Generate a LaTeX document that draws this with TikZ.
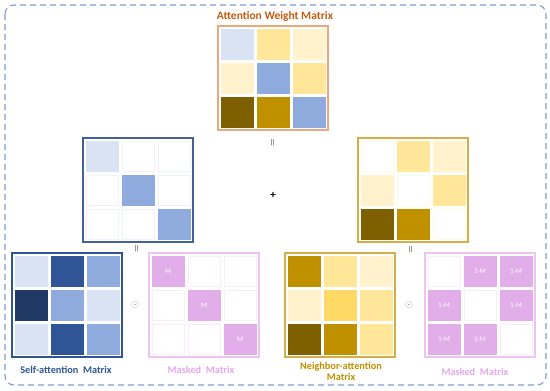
\documentclass[tikz,border=0pt]{standalone}
\usepackage{fontspec}
\setmainfont{Carlito}
\usepackage{amsmath}
\usetikzlibrary{positioning}
\definecolor{blA}{HTML}{DAE3F3}
\definecolor{blB}{HTML}{8FAADC}
\definecolor{blC}{HTML}{2F5597}
\definecolor{blD}{HTML}{1F3864}
\definecolor{blE}{HTML}{EEF2FA}
\definecolor{blFrame}{HTML}{44619E}
\definecolor{ylA}{HTML}{FFF2CC}
\definecolor{ylB}{HTML}{FFE699}
\definecolor{ylC}{HTML}{FFD966}
\definecolor{ylD}{HTML}{BF9000}
\definecolor{ylE}{HTML}{7F6000}
\definecolor{ylF}{HTML}{FFF9E8}
\definecolor{ylFrame}{HTML}{D5AE4A}
\definecolor{pkA}{HTML}{E2AEE9}
\definecolor{pkE}{HTML}{F8EEF9}
\definecolor{pkFrame}{HTML}{EEC2F2}
\definecolor{pkText}{HTML}{E6A6EE}
\definecolor{awFrame}{HTML}{EDA77C}
\definecolor{awText}{HTML}{C55A11}
\definecolor{outerLine}{HTML}{7E9BD3}

\tikzset{
  matframe/.style={draw, line width=1.4pt, minimum width=110pt, minimum height=104pt, inner sep=0pt},
  cellbox/.style={line width=0.6pt, minimum width=32pt, minimum height=30pt, inner sep=0pt,
    font=\fontsize{7}{8}\selectfont, text=white},
  lbl/.style={font=\fontsize{10.3}{11}\selectfont\bfseries, align=center},
  eqsign/.style={font=\fontsize{10}{10}\selectfont, rotate=90, inner sep=0pt},
  opsign/.style={font=\fontsize{10}{10}\selectfont, text=black!50, inner sep=0pt}
}

% one 3x3 matrix: name, left, top, frame colour, cells (fill/edge/text)
\newcommand{\drawmat}[5]{%
  \node[matframe, draw=#4] (#1) at (#2+55,#3+52) {};
  \foreach \fc/\dc/\txt [count=\i from 0] in {#5}{
    \pgfmathtruncatemacro{\r}{div(\i,3)}
    \pgfmathtruncatemacro{\c}{mod(\i,3)}
    \node[cellbox, fill=\fc, draw=\dc] (#1-\r-\c) at (#2+19+36*\c,#3+18+34*\r) {\txt};
  }
}

\begin{document}
\begin{tikzpicture}[x=1pt, y=-1pt]
  \useasboundingbox (0,0) rectangle (550,391);
  \draw[outerLine, line width=1.1pt, dash pattern=on 6pt off 4pt, rounded corners=9pt]
    (5,5) rectangle (546,385);

  % attention weight matrix
  \node[lbl, text=awText, font=\fontsize{11.5}{12}\selectfont\bfseries] (awTitle) at (275,16) {Attention Weight Matrix};
  \drawmat{aw}{218}{26}{awFrame}{
    blA/blA/{}, ylB/ylB/{}, ylA/ylA/{},
    ylA/ylA/{}, blB/blB/{}, ylB/ylB/{},
    ylE/ylE/{}, ylD/ylD/{}, blB/blB/{}}
  \node[eqsign] (eqTop) at (273,143) {$=$};

  % middle row
  \drawmat{saw}{83}{138}{blFrame}{
    blA/blA/{}, white/blE/{}, white/blE/{},
    white/blE/{}, blB/blB/{}, white/blE/{},
    white/blE/{}, white/blE/{}, blB/blB/{}}
  \node[font=\fontsize{11}{11}\selectfont\bfseries, inner sep=0pt] (plus) at (273,195) {+};
  \drawmat{naw}{358}{138}{ylFrame}{
    white/ylF/{}, ylB/ylB/{}, ylA/ylA/{},
    ylA/ylA/{}, white/ylF/{}, ylB/ylB/{},
    ylE/ylE/{}, ylD/ylD/{}, white/ylF/{}}
  \node[eqsign] (eqLeft) at (137,249) {$=$};
  \node[eqsign] (eqRight) at (411,250) {$=$};

  % bottom row, self-attention side
  \drawmat{sam}{12}{253}{blC}{
    blA/blA/{}, blC/blC/{}, blB/blB/{},
    blD/blD/{}, blB/blB/{}, blA/blA/{},
    blA/blA/{}, blC/blC/{}, blB/blB/{}}
  \node[opsign] (dotLeft) at (135,305) {$\odot$};
  \drawmat{mka}{149}{253}{pkFrame}{
    pkA/pkA/M, white/pkE/{}, white/pkE/{},
    white/pkE/{}, pkA/pkA/M, white/pkE/{},
    white/pkE/{}, white/pkE/{}, pkA/pkA/M}
  \node[lbl, text=blC] (samLbl) at (66,370) {Self-attention\ \ Matrix};
  \node[lbl, text=pkText] (mkaLbl) at (201,370) {Masked\ \ Matrix};

  % bottom row, neighbor-attention side
  \drawmat{nam}{285}{253}{ylFrame}{
    ylD/ylD/{}, ylB/ylB/{}, ylA/ylA/{},
    ylA/ylA/{}, ylC/ylC/{}, ylB/ylB/{},
    ylE/ylE/{}, ylD/ylD/{}, ylB/ylB/{}}
  \node[opsign] (dotRight) at (409,305) {$\odot$};
  \drawmat{mkb}{425}{253}{pkFrame}{
    white/pkE/{}, pkA/pkA/1-M, pkA/pkA/1-M,
    pkA/pkA/1-M, white/pkE/{}, pkA/pkA/1-M,
    pkA/pkA/1-M, pkA/pkA/1-M, white/pkE/{}}
  \node[lbl, text=ylD] (namLbl) at (341,371) {Neighbor-attention\\Matrix};
  \node[lbl, text=pkText] (mkbLbl) at (475,372) {Masked\ \ Matrix};
\end{tikzpicture}
\end{document}
